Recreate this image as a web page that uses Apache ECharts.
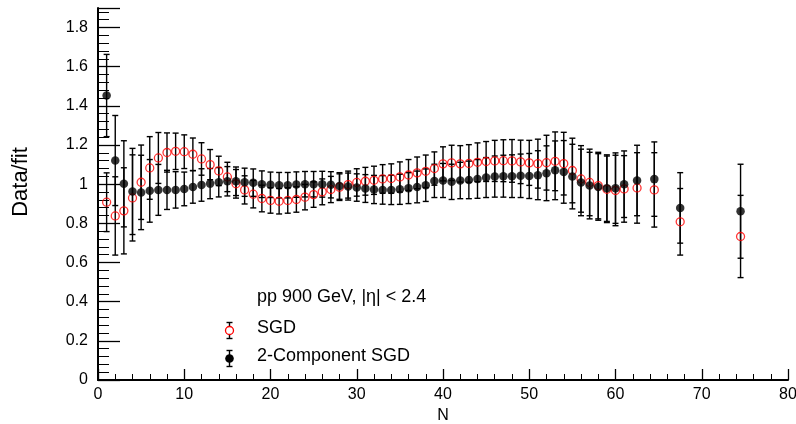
<!DOCTYPE html>
<html>
<head>
<meta charset="utf-8">
<script src="https://cdn.jsdelivr.net/npm/echarts@6/dist/echarts.min.js"></script>
<style>
  html, body { margin: 0; padding: 0; background: #fff; }
  #chart { width: 796px; height: 424px; }
</style>
</head>
<body>
<div id="chart"></div>
<script>
// multiplicity N (bin centres)
var nValues = [1, 2, 3, 4, 5, 6, 7, 8, 9, 10, 11, 12, 13, 14, 15, 16, 17, 18, 19, 20,
  21, 22, 23, 24, 25, 26, 27, 28, 29, 30, 31, 32, 33, 34, 35, 36, 37, 38, 39, 40,
  41, 42, 43, 44, 45, 46, 47, 48, 49, 50, 51, 52, 53, 54, 55, 56, 57, 58, 59, 60,
  61, 62.5, 64.5, 67.5, 74.5];

// data/fit for the SGD fit (red open circles)
var sgdRatio = [0.908, 0.838, 0.864, 0.930, 1.010, 1.083, 1.134, 1.162, 1.168, 1.166,
  1.153, 1.129, 1.100, 1.068, 1.037, 1.002, 0.971, 0.949, 0.927, 0.917,
  0.913, 0.917, 0.922, 0.934, 0.947, 0.961, 0.973, 0.985, 0.998, 1.009,
  1.015, 1.020, 1.027, 1.029, 1.037, 1.047, 1.058, 1.066, 1.080, 1.104,
  1.109, 1.104, 1.106, 1.112, 1.116, 1.119, 1.120, 1.119, 1.114, 1.109,
  1.105, 1.110, 1.117, 1.105, 1.070, 1.027, 1.009, 0.993, 0.974, 0.968,
  0.976, 0.981, 0.971, 0.808, 0.733];
var sgdErr = [0.15, 0.20, 0.22, 0.22, 0.19, 0.16, 0.13, 0.10, 0.093, 0.086,
  0.083, 0.083, 0.077, 0.075, 0.075, 0.073, 0.072, 0.070, 0.068, 0.065,
  0.065, 0.065, 0.065, 0.065, 0.065, 0.066, 0.067, 0.068, 0.069, 0.070,
  0.071, 0.072, 0.073, 0.075, 0.077, 0.079, 0.081, 0.083, 0.085, 0.087,
  0.090, 0.093, 0.096, 0.099, 0.102, 0.105, 0.107, 0.109, 0.111, 0.115,
  0.125, 0.14, 0.15, 0.16, 0.165, 0.17, 0.17, 0.17, 0.17, 0.18,
  0.17, 0.18, 0.19, 0.17, 0.21];

// data/fit for the 2-component SGD fit (black dots)
var twoCompRatio = [1.453, 1.121, 1.002, 0.963, 0.958, 0.966, 0.971, 0.971, 0.971, 0.976,
  0.986, 0.996, 1.003, 1.010, 1.015, 1.015, 1.010, 1.008, 1.000, 0.997,
  0.995, 0.995, 0.998, 1.000, 1.000, 1.000, 0.997, 0.991, 0.988, 0.983,
  0.978, 0.973, 0.971, 0.971, 0.974, 0.980, 0.986, 0.995, 1.017, 1.019,
  1.012, 1.019, 1.022, 1.027, 1.034, 1.039, 1.041, 1.041, 1.043, 1.042,
  1.046, 1.056, 1.071, 1.063, 1.039, 1.009, 0.993, 0.986, 0.980, 0.980,
  1.000, 1.019, 1.026, 0.879, 0.862];
var twoCompErr = [0.21, 0.23, 0.22, 0.22, 0.19, 0.16, 0.13, 0.10, 0.093, 0.086,
  0.083, 0.083, 0.077, 0.075, 0.075, 0.073, 0.072, 0.070, 0.068, 0.065,
  0.065, 0.065, 0.065, 0.065, 0.065, 0.066, 0.067, 0.068, 0.069, 0.070,
  0.071, 0.072, 0.073, 0.075, 0.077, 0.079, 0.081, 0.083, 0.085, 0.087,
  0.090, 0.093, 0.096, 0.099, 0.102, 0.105, 0.107, 0.109, 0.111, 0.115,
  0.125, 0.14, 0.15, 0.16, 0.165, 0.17, 0.17, 0.17, 0.17, 0.18,
  0.17, 0.18, 0.19, 0.18, 0.24];

var FONT = 'Liberation Sans, Arial, sans-serif';

function points(vals) {
  return nValues.map(function (n, i) { return [n, vals[i]]; });
}
function errBars(vals, errs) {
  return nValues.map(function (n, i) { return [n, vals[i] - errs[i], vals[i] + errs[i]]; });
}

// vertical error bar with small caps at both ends
function renderErr(params, api) {
  var x = api.value(0);
  var lo = api.coord([x, api.value(1)]);
  var hi = api.coord([x, api.value(2)]);
  var w = 3;
  var st = { stroke: '#000', lineWidth: 1.4 };
  return {
    type: 'group',
    children: [
      { type: 'line', shape: { x1: hi[0], y1: hi[1], x2: lo[0], y2: lo[1] }, style: st },
      { type: 'line', shape: { x1: hi[0] - w, y1: hi[1], x2: hi[0] + w, y2: hi[1] }, style: st },
      { type: 'line', shape: { x1: lo[0] - w, y1: lo[1], x2: lo[0] + w, y2: lo[1] }, style: st }
    ]
  };
}

var chart = echarts.init(document.getElementById('chart'));

var option = {
  animation: false,
  backgroundColor: '#fff',
  textStyle: { fontFamily: FONT },
  grid: { left: 98, right: 8, top: 8, bottom: 44, outerBoundsMode: 'none' },
  xAxis: {
    type: 'value',
    min: 0,
    max: 80,
    interval: 10,
    name: 'N',
    nameLocation: 'middle',
    nameGap: 21,
    nameTextStyle: { fontSize: 16, color: '#000', fontFamily: FONT, verticalAlign: 'top' },
    axisLine: { show: true, onZero: false, lineStyle: { color: '#000', width: 2 } },
    axisTick: { inside: true, length: 11, lineStyle: { color: '#000', width: 1.3 } },
    minorTick: { show: true, splitNumber: 5, length: 6, lineStyle: { color: '#000', width: 1 } },
    axisLabel: { margin: 7, fontSize: 16, color: '#000', fontFamily: FONT },
    splitLine: { show: false }
  },
  yAxis: {
    type: 'value',
    min: 0,
    max: 1.9,
    interval: 0.2,
    name: 'Data/fit',
    nameLocation: 'middle',
    nameGap: 66,
    nameTextStyle: { fontSize: 22, color: '#000', fontFamily: FONT, padding: [0, 0, 0, 24] },
    axisLine: { show: true, onZero: false, lineStyle: { color: '#000', width: 2 } },
    axisTick: { inside: true, length: 22, lineStyle: { color: '#000', width: 1.3 } },
    minorTick: { show: true, splitNumber: 5, length: 11, lineStyle: { color: '#000', width: 1 } },
    axisLabel: { margin: 10, fontSize: 16, color: '#000', fontFamily: FONT, showMaxLabel: false },
    splitLine: { show: false }
  },
  graphic: [
    {
      type: 'text', left: 257, top: 288,
      style: { text: 'pp 900 GeV, |η| < 2.4', fontSize: 18, fill: '#000', fontFamily: FONT }
    },
    {
      type: 'group', left: 224, top: 320,
      children: [
        { type: 'line', shape: { x1: 6, y1: 0, x2: 6, y2: 16 }, style: { stroke: '#000', lineWidth: 1.4 } },
        { type: 'line', shape: { x1: 3, y1: 0, x2: 9, y2: 0 }, style: { stroke: '#000', lineWidth: 1.4 } },
        { type: 'line', shape: { x1: 3, y1: 16, x2: 9, y2: 16 }, style: { stroke: '#000', lineWidth: 1.4 } },
        { type: 'circle', shape: { cx: 6, cy: 8, r: 4 }, style: { fill: '#fff', stroke: '#f00', lineWidth: 1.3 } }
      ]
    },
    {
      type: 'text', left: 257, top: 319,
      style: { text: 'SGD', fontSize: 18, fill: '#000', fontFamily: FONT }
    },
    {
      type: 'group', left: 224, top: 348,
      children: [
        { type: 'line', shape: { x1: 6, y1: 0, x2: 6, y2: 16 }, style: { stroke: '#000', lineWidth: 1.4 } },
        { type: 'line', shape: { x1: 3, y1: 0, x2: 9, y2: 0 }, style: { stroke: '#000', lineWidth: 1.4 } },
        { type: 'line', shape: { x1: 3, y1: 16, x2: 9, y2: 16 }, style: { stroke: '#000', lineWidth: 1.4 } },
        { type: 'circle', shape: { cx: 6, cy: 8, r: 4.3 }, style: { fill: '#000' } }
      ]
    },
    {
      type: 'text', left: 257, top: 347,
      style: { text: '2-Component SGD', fontSize: 18, fill: '#000', fontFamily: FONT }
    }
  ],
  series: [
    {
      name: 'SGD err',
      type: 'custom',
      renderItem: renderErr,
      encode: { x: 0, y: [1, 2] },
      data: errBars(sgdRatio, sgdErr),
      z: 1
    },
    {
      name: '2-Component SGD err',
      type: 'custom',
      renderItem: renderErr,
      encode: { x: 0, y: [1, 2] },
      data: errBars(twoCompRatio, twoCompErr),
      z: 1
    },
    {
      name: 'SGD',
      type: 'scatter',
      symbol: 'circle',
      symbolSize: 8,
      itemStyle: { color: 'rgba(0,0,0,0)', borderColor: '#f00', borderWidth: 1.3 },
      data: points(sgdRatio),
      z: 2
    },
    {
      name: '2-Component SGD',
      type: 'scatter',
      symbol: 'circle',
      symbolSize: 8.5,
      itemStyle: { color: '#000' },
      data: points(twoCompRatio),
      z: 3
    }
  ]
};

chart.setOption(option);
</script>
</body>
</html>
